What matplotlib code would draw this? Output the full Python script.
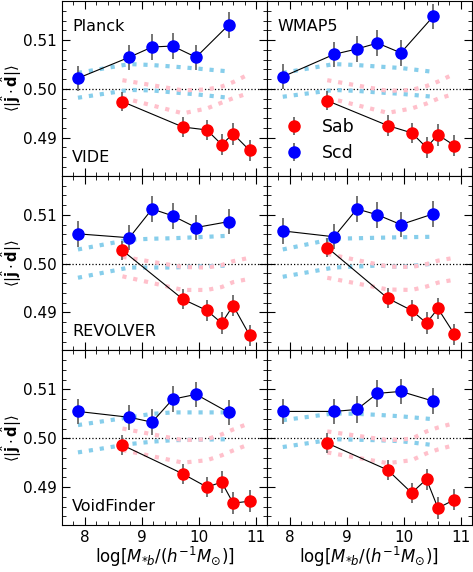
import matplotlib
matplotlib.use('Agg')
import matplotlib.pyplot as plt
from matplotlib.ticker import MultipleLocator

# stellar mass bins
x_scd = [7.88, 8.78, 9.18, 9.54, 9.95, 10.52]
x_sab = [8.66, 9.72, 10.14, 10.40, 10.60, 10.89]

err_scd = [0.0026, 0.0026, 0.0027, 0.0027, 0.0026, 0.0026]
err_sab = [0.0020, 0.0021, 0.0021, 0.0022, 0.0022, 0.0022]

scd = [
    [0.5022, 0.5065, 0.5086, 0.5088, 0.5065, 0.5131],
    [0.5025, 0.5071, 0.5082, 0.5094, 0.5074, 0.5149],
    [0.5061, 0.5053, 0.5112, 0.5098, 0.5074, 0.5086],
    [0.5067, 0.5055, 0.5112, 0.5100, 0.5080, 0.5102],
    [0.5055, 0.5043, 0.5033, 0.5080, 0.5090, 0.5053],
    [0.5055, 0.5055, 0.5059, 0.5092, 0.5096, 0.5076],
]
sab = [
    [0.4974, 0.4922, 0.4916, 0.4886, 0.4908, 0.4874],
    [0.4976, 0.4925, 0.4910, 0.4880, 0.4906, 0.4884],
    [0.5027, 0.4927, 0.4904, 0.4878, 0.4914, 0.4853],
    [0.5033, 0.4929, 0.4904, 0.4878, 0.4908, 0.4855],
    [0.4986, 0.4927, 0.4900, 0.4910, 0.4867, 0.4871],
    [0.4990, 0.4935, 0.4888, 0.4916, 0.4857, 0.4874],
]

# random expectation bands (upper / lower)
scd_hi = [
    [0.5033, 0.5051, 0.5049, 0.5046, 0.5042, 0.5036],
    [0.5033, 0.5051, 0.5049, 0.5046, 0.5043, 0.5035],
    [0.5029, 0.5049, 0.5051, 0.5052, 0.5054, 0.5057],
    [0.5029, 0.5051, 0.5052, 0.5053, 0.5054, 0.5055],
    [0.5027, 0.5043, 0.5050, 0.5053, 0.5053, 0.5053],
    [0.5037, 0.5051, 0.5050, 0.5048, 0.5045, 0.5039],
]
scd_lo = [
    [0.4982, 0.4998, 0.4997, 0.4993, 0.4989, 0.4982],
    [0.4984, 0.4998, 0.4996, 0.4993, 0.4990, 0.4984],
    [0.4971, 0.4992, 0.4992, 0.4992, 0.4994, 0.4996],
    [0.4973, 0.4992, 0.4994, 0.4996, 0.4993, 0.5000],
    [0.4971, 0.4988, 0.4993, 0.4996, 0.4997, 0.4998],
    [0.4982, 0.4998, 0.4997, 0.4996, 0.4994, 0.4986],
]
sab_hi = [
    [0.5018, 0.4997, 0.4999, 0.5005, 0.5014, 0.5031],
    [0.5018, 0.4996, 0.4998, 0.5006, 0.5015, 0.5031],
    [0.5014, 0.4993, 0.4992, 0.4997, 0.5005, 0.5012],
    [0.5020, 0.4994, 0.4993, 0.4999, 0.5006, 0.5012],
    [0.5020, 0.4996, 0.4998, 0.5008, 0.5018, 0.5031],
    [0.5014, 0.4996, 0.4999, 0.5014, 0.5022, 0.5031],
]
sab_lo = [
    [0.4982, 0.4950, 0.4960, 0.4972, 0.4981, 0.4992],
    [0.4982, 0.4951, 0.4960, 0.4970, 0.4980, 0.4990],
    [0.4974, 0.4946, 0.4946, 0.4952, 0.4962, 0.4969],
    [0.4971, 0.4947, 0.4946, 0.4953, 0.4961, 0.4967],
    [0.4976, 0.4950, 0.4955, 0.4965, 0.4975, 0.4988],
    [0.4971, 0.4949, 0.4955, 0.4969, 0.4977, 0.4986],
]

top_labels = ['Planck', 'WMAP5', '', '', '', '']
bottom_labels = ['VIDE', '', 'REVOLVER', '', 'VoidFinder', '']

fig, axes = plt.subplots(3, 2, figsize=(4.73, 5.72), dpi=100, sharex=True, sharey=True)
fig.subplots_adjust(left=0.131, right=0.997, top=0.998, bottom=0.082, wspace=0, hspace=0)

for i, ax in enumerate(axes.flat):
    ax.axhline(0.5, color='k', ls=':', lw=0.9)
    ax.plot(x_scd, scd_hi[i], ':', color='skyblue', lw=3)
    ax.plot(x_scd, scd_lo[i], ':', color='skyblue', lw=3)
    ax.plot(x_sab, sab_hi[i], ':', color='pink', lw=3)
    ax.plot(x_sab, sab_lo[i], ':', color='pink', lw=3)
    ax.plot(x_scd, scd[i], '-', color='k', lw=0.8, zorder=3)
    ax.plot(x_sab, sab[i], '-', color='k', lw=0.8, zorder=3)
    ax.errorbar(x_sab, sab[i], yerr=err_sab, fmt='o', color='red', ms=8,
                ecolor='dimgray', elinewidth=1.3, zorder=4, label='Sab')
    ax.errorbar(x_scd, scd[i], yerr=err_scd, fmt='o', color='blue', ms=8,
                ecolor='dimgray', elinewidth=1.3, zorder=4, label='Scd')

    if top_labels[i]:
        ax.text(0.05, 0.83, top_labels[i], transform=ax.transAxes, fontsize=11.5)
    if bottom_labels[i]:
        ax.text(0.05, 0.08, bottom_labels[i], transform=ax.transAxes, fontsize=11.5)

    ax.set_xlim(7.6, 11.19)
    ax.set_ylim(0.4822, 0.518)
    ax.xaxis.set_major_locator(MultipleLocator(1))
    ax.xaxis.set_minor_locator(MultipleLocator(0.2))
    ax.yaxis.set_major_locator(MultipleLocator(0.01))
    ax.yaxis.set_minor_locator(MultipleLocator(0.002))
    ax.tick_params(which='both', direction='in', top=True, right=True, labelsize=11)
    ax.tick_params(which='major', length=6)
    ax.tick_params(which='minor', length=3)
    ax.yaxis.set_major_formatter(plt.FormatStrFormatter('%.2f'))

    if i % 2 == 0:
        ax.set_ylabel(r'$\langle|\hat{\mathbf{j}}\cdot\hat{\mathbf{d}}|\rangle$', fontsize=10.5)
        ax.yaxis.set_label_coords(-0.185, 0.5)
    if i >= 4:
        ax.set_xlabel(r'$\log[M_{*b}/(h^{-1}M_{\odot})]$', fontsize=12)
        ax.xaxis.set_label_coords(0.5, -0.115)

axes[0, 1].legend(loc='lower left', bbox_to_anchor=(-0.03, -0.01), frameon=False,
                  fontsize=12.5, handletextpad=0.6, labelspacing=0.45)

plt.savefig('out.png', dpi=100)
